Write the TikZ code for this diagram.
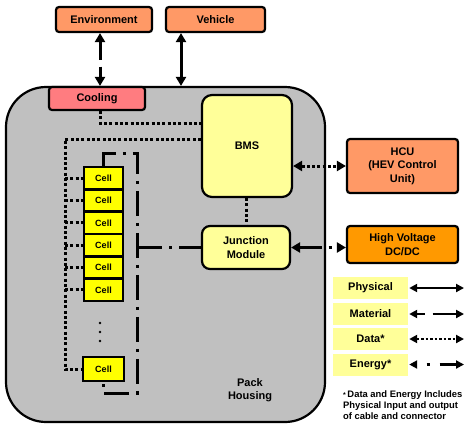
\documentclass[tikz,border=0pt]{standalone}
\usepackage{fontspec}
\setmainfont{Liberation Sans}
\usetikzlibrary{arrows.meta,calc}
\definecolor{housingc}{HTML}{C0C0C0}
\definecolor{envc}{HTML}{FF9966}
\definecolor{coolc}{HTML}{FF7C80}
\definecolor{hvc}{HTML}{FF9900}
\definecolor{paley}{HTML}{FFFF99}
\definecolor{celly}{HTML}{FFFF00}
\begin{document}
\begin{tikzpicture}[x=1pt,y=-1pt,
  txt/.style={font=\fontsize{11}{13.5}\selectfont\bfseries,align=center,inner sep=0pt},
  box/.style={txt,draw,line width=2.2pt,rounded corners=3pt},
  cellbox/.style={draw,line width=2.8pt,fill=celly,minimum width=39pt,minimum height=22.33pt,inner sep=0pt,font=\fontsize{9}{10}\selectfont\bfseries},
  legbox/.style={txt,fill=paley,minimum width=75pt,minimum height=22pt},
  phys/.style={line width=3pt,{Triangle[length=9pt,width=10pt]}-{Triangle[length=9pt,width=10pt]}},
  mat/.style={phys,dash pattern=on 18pt off 7pt},
  data/.style={line width=3pt,dash pattern=on 3pt off 2.3pt},
  energy/.style={line width=3pt,dash pattern=on 25pt off 7pt on 3pt off 7pt},
  lphys/.style={line width=2.3pt,{Triangle[length=8pt,width=8pt]}-{Triangle[length=8pt,width=8pt]}}
]
\useasboundingbox (0,0) rectangle (470,437);

% housing
\node[draw,line width=2.2pt,fill=housingc,rounded corners=40pt,minimum width=319pt,minimum height=335pt,inner sep=0pt] (housing) at (165.5,254.5) {};
\node[txt] (packlabel) at (250,390) {Pack\\Housing};

% top boxes
\node[box,fill=envc,minimum width=96pt,minimum height=25pt] (env) at (104,19.5) {Environment};
\node[box,fill=envc,minimum width=99pt,minimum height=25pt] (vehicle) at (215.5,19.5) {Vehicle};
\node[box,fill=coolc,minimum width=96pt,minimum height=23pt] (cooling) at (97,98.5) {Cooling};

% inner blocks
\node[box,fill=paley,rounded corners=10pt,minimum width=90pt,minimum height=102pt] (bms) at (247,146) {BMS};
\node[box,fill=paley,rounded corners=8pt,minimum width=88pt,minimum height=43pt] (junction) at (246,247.5) {Junction\\Module};

% right boxes
\node[box,fill=envc,minimum width=111pt,minimum height=54pt] (hcu) at (402.5,166) {HCU\\(HEV Control\\Unit)};
\node[box,fill=hvc,minimum width=111pt,minimum height=37pt] (hvdc) at (402.5,244.5) {High Voltage\\DC/DC};

% cells
\foreach \i/\y in {1/178.2,2/200.5,3/222.8,4/245.2,5/267.5,6/289.8}{
  \node[cellbox] (c\i) at (103.5,\y) {Cell};
}
\node[cellbox,minimum width=41pt,minimum height=24pt] (cl) at (103.5,369) {Cell};
\fill (100,323) circle (1.3pt) (100,332) circle (1.3pt) (100,341) circle (1.3pt);

% coordinates
\coordinate (ex) at (100,0);
\coordinate (vx) at (181,0);
\coordinate (d1) at (0,123);
\coordinate (lx) at (65,139);
\coordinate (ey) at (137,153);
\coordinate (eb) at (137,393);

% top arrows
\draw[mat] (ex |- env.south) -- (ex |- cooling.north);
\draw[phys] (vx |- vehicle.south) -- (vx |- housing.north);

% data lines
\draw[data] (ex |- cooling.south) |- (bms.west |- d1);
\draw[data] (bms.west |- lx) -- (lx) |- (cl.west);
\foreach \i in {1,...,6}{
  \draw[data] (lx |- c\i.west) -- (c\i.west);
}
\draw[data] (junction.north |- bms.south) -- (junction.north);
\draw[data,{Triangle[length=9pt,width=10pt]}-{Triangle[length=9pt,width=10pt]}] (bms.east |- hcu.west) -- (hcu.west);

% energy lines
\draw[energy] (c1.north) |- (ey) -- (eb) -| (cl.south);
\draw[energy] (ey |- junction.west) -- (junction.west);
\draw[line width=3pt,dash pattern=on 22pt off 7pt on 3pt off 7pt,{Triangle[length=9pt,width=10pt]}-{Triangle[length=9pt,width=10pt]}] (junction.east) -- (hvdc.west |- junction.east);

% legend
\node[legbox] (l1) at (370.5,288) {Physical};
\node[legbox] (l2) at (370.5,314) {Material};
\node[legbox] (l3) at (370.5,339) {Data*};
\node[legbox] (l4) at (370.5,364.5) {Energy*};
\coordinate (e1) at (464,288);
\coordinate (e2) at (464,314);
\coordinate (e3) at (464,339);
\coordinate (e4) at (464,364.5);
\draw[lphys] ([xshift=1pt]l1.east) -- (e1);
\draw[lphys,dash pattern=on 8pt off 8pt on 40pt] ([xshift=1pt]l2.east) -- (e2);
\draw[lphys,dash pattern=on 2.5pt off 2pt] ([xshift=1pt]l3.east) -- (e3);
\draw[lphys,dash pattern=on 0pt off 10pt on 3pt off 10pt on 40pt] ([xshift=1pt]l4.east) -- (e4);

\node[anchor=north west,align=left,inner sep=0pt,font=\fontsize{9.4}{11}\selectfont\bfseries] (note) at (343,390) {{\fontsize{7}{7}\selectfont*}\,Data and Energy Includes\\Physical Input and output\\of cable and connector};
\end{tikzpicture}
\end{document}
